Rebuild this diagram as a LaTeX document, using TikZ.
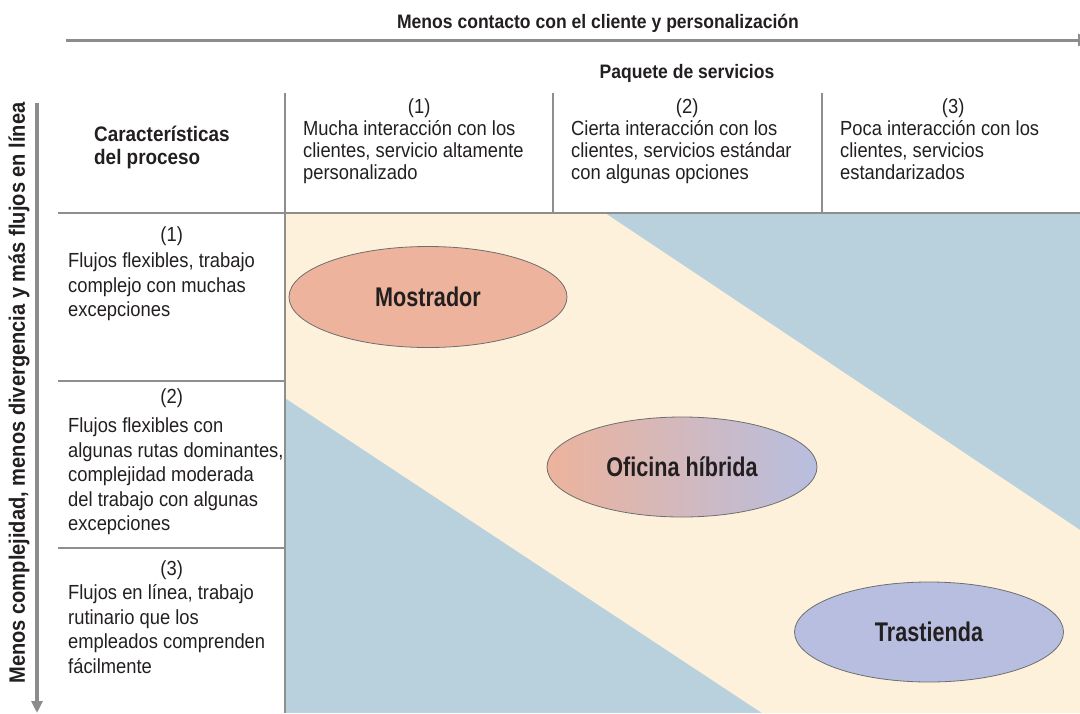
\documentclass[tikz,border=0pt]{standalone}
\usepackage{fontspec}
\setmainfont{Liberation Sans}[FakeStretch=0.9]
\newfontfamily\ellfont{Liberation Sans}[FakeStretch=0.8]
\usetikzlibrary{arrows.meta,shapes.geometric}
\definecolor{txt}{HTML}{231F20}
\definecolor{gridgray}{HTML}{8E8E8E}
\definecolor{axisgray}{HTML}{8C8C8C}
\definecolor{bandblue}{HTML}{B8D1DD}
\definecolor{bandbeige}{HTML}{FDF1DB}
\definecolor{salmon}{HTML}{EDB39C}
\definecolor{lavender}{HTML}{B7BEE0}
\definecolor{ellborder}{HTML}{6E6E6E}
\begin{document}
\begin{tikzpicture}[x=1pt,y=-1pt,
  gridline/.style={draw=gridgray,line width=1.5pt},
  axisline/.style={draw=axisgray,line width=3.5pt,-{Triangle[width=12pt,length=12pt]}},
  bodytext/.style={inner sep=0pt,anchor=north west,align=left,text=txt,font={\fontsize{20.4}{22}\selectfont}},
  rowtext/.style={inner sep=0pt,anchor=north west,align=left,text=txt,font={\fontsize{20.4}{24.5}\selectfont}},
  headtext/.style={inner sep=0pt,text=txt,font={\bfseries\fontsize{19.5}{22}\selectfont}},
  category/.style={ellipse,draw=ellborder,line width=0.8pt,minimum width=275pt,minimum height=101pt,inner sep=0pt,text=txt,font={\ellfont\bfseries\fontsize{27}{30}\selectfont}}
]
\useasboundingbox (0,0) rectangle (1080,713);
% background areas
\fill[bandblue] (285,213) rectangle (1080,713);
\fill[bandbeige] (285,213) -- (605,213) -- (1080,530) -- (1080,713) -- (762,713) -- (285,398) -- cycle;
% grid
\draw[gridline] (285,93) -- (285,713);
\draw[gridline] (553,93) -- (553,213);
\draw[gridline] (822,93) -- (822,213);
\draw[gridline] (58,213) -- (1080,213);
\draw[gridline] (58,381) -- (285,381);
\draw[gridline] (58,548) -- (285,548);
% axes
\coordinate (hs) at (66,40);
\coordinate (he) at (1090,40);
\draw[axisline,line width=3pt] (hs) -- (he);
\coordinate (vs) at (37,103);
\coordinate (ve) at (37,713);
\draw[axisline,-{Triangle[width=11pt,length=12pt]}] (vs) -- (ve);
% titles
\node[headtext,anchor=base] (toptitle) at (598,28) {Menos contacto con el cliente y personalización};
\node[headtext,anchor=base] (paquete) at (687,78) {Paquete de servicios};
\node[headtext,rotate=90,font={\bfseries\fontsize{22.3}{24}\selectfont}] (sidetitle) at (19,393) {Menos complejidad, menos divergencia y más flujos en línea};
\node[headtext,anchor=north west,align=left,font={\bfseries\fontsize{21}{23}\selectfont}] (caract) at (94,125) {\strut Características\\del proceso};
% column headers
\node[bodytext] (col1) at (303,97.6) {\makebox[232pt]{\strut(1)}\\Mucha interacción con los\\clientes, servicio altamente\\personalizado};
\node[bodytext] (col2) at (571,97.6) {\makebox[232pt]{\strut(2)}\\Cierta interacción con los\\clientes, servicios estándar\\con algunas opciones};
\node[bodytext] (col3) at (840,97.6) {\makebox[226pt]{\strut(3)}\\Poca interacción con los\\clientes, servicios\\estandarizados};
% row headers
\node[rowtext] (row1) at (68,223.9) {\makebox[207pt]{\strut(1)}\\[2pt]Flujos flexibles, trabajo\\complejo con muchas\\excepciones};
\node[rowtext] (row2) at (68,385.9) {\makebox[207pt]{\strut(2)}\\[5pt]Flujos flexibles con\\algunas rutas dominantes,\\complejidad moderada\\del trabajo con algunas\\excepciones};
\node[rowtext] (row3) at (68,557.9) {\makebox[207pt]{\strut(3)}\\Flujos en línea, trabajo\\rutinario que los\\empleados comprenden\\fácilmente};
% categories
\node[category,fill=salmon,minimum width=278pt] (mostrador) at (428,297) {Mostrador};
\node[category,left color=salmon,right color=lavender,minimum width=270pt,minimum height=100pt] (oficina) at (682,467) {Oficina híbrida};
\node[category,fill=lavender,minimum width=269pt,minimum height=100pt] (trastienda) at (929,632) {Trastienda};
\end{tikzpicture}
\end{document}
